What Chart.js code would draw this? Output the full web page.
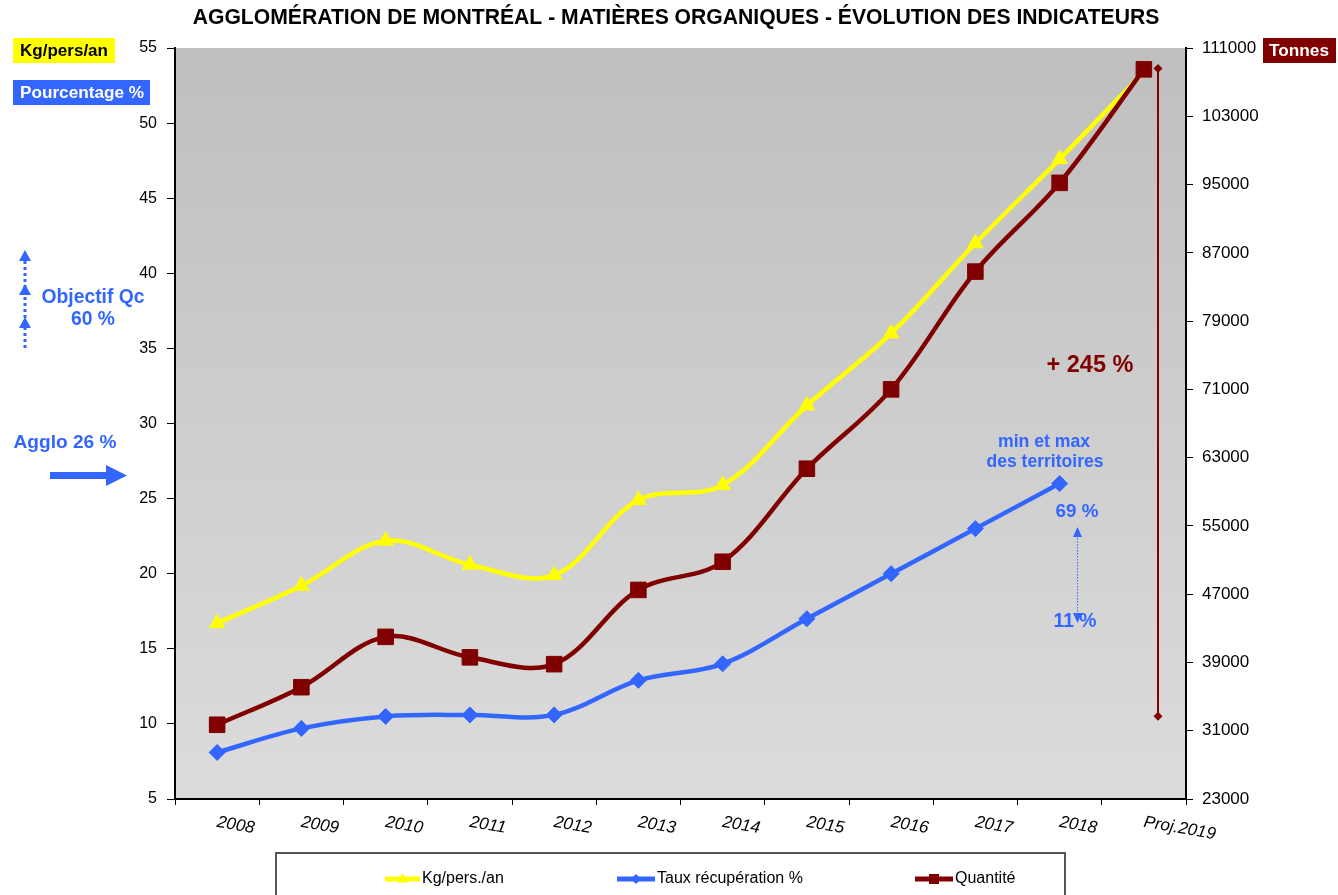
<!DOCTYPE html>
<html><head><meta charset="utf-8">
<script src="https://cdn.jsdelivr.net/npm/chart.js@4.4.0/dist/chart.umd.min.js"></script>
<style>html,body{margin:0;padding:0;background:#fff;}#wrap{width:1338px;height:895px;position:relative;}</style>
</head><body><div id="wrap"><canvas id="c" width="1338" height="895"></canvas></div>
<script>
const categories = ['2008','2009','2010','2011','2012','2013','2014','2015','2016','2017','2018','Proj.2019'];
const kgPersAn = [16.7, 19.2, 22.2, 20.6, 19.9, 24.9, 25.9, 31.2, 36.0, 42.0, 47.6, 53.4];
const tauxRecup = [8.1, 9.7, 10.5, 10.6, 10.6, 12.9, 14.0, 17.0, 20.0, 23.0, 26.0, null];
const quantite = [31700, 36100, 42000, 39600, 38800, 47500, 50800, 61700, 71000, 84800, 95200, 108500];
const seriesNames = ['Kg/pers./an', 'Taux récupération %', 'Quantité'];
const leftAxis = {min: 5, max: 55, step: 5};
const rightAxis = {min: 23000, max: 111000, step: 8000};
const rangeQuantite = [32700, 108600];

const FONT = 'Arial, "Liberation Sans", sans-serif';
const YEL = '#ffff00', BLU = '#3366ff', RED = '#800000';

function fitSize(ctx, text, weight, targetW) {
  ctx.font = weight + ' 20px ' + FONT;
  return 20 * targetW / ctx.measureText(text).width;
}
function textFit(ctx, text, cx, cy, targetW, weight, color) {
  const s = fitSize(ctx, text, weight, targetW);
  ctx.font = weight + ' ' + s.toFixed(2) + 'px ' + FONT;
  ctx.fillStyle = color; ctx.textAlign = 'center'; ctx.textBaseline = 'middle';
  ctx.fillText(text, cx, cy);
}
function tri(ctx, x1,y1,x2,y2,x3,y3,color){ctx.fillStyle=color;ctx.beginPath();ctx.moveTo(x1,y1);ctx.lineTo(x2,y2);ctx.lineTo(x3,y3);ctx.closePath();ctx.fill();}

const decor = {
  id: 'decor',
  beforeDraw(chart) {
    const {ctx, chartArea: a} = chart;
    ctx.save();
    ctx.fillStyle = '#fff'; ctx.fillRect(0, 0, chart.width, chart.height);
    const g = ctx.createLinearGradient(0, a.top, 0, a.bottom);
    g.addColorStop(0, '#bfbfbf'); g.addColorStop(1, '#dcdcdc');
    ctx.fillStyle = g; ctx.fillRect(a.left, a.top, a.right - a.left, a.bottom - a.top);
    ctx.restore();
  },
  afterDraw(chart) {
    const {ctx, chartArea: a} = chart;
    const xs = chart.scales.x, y1 = chart.scales.y1;
    ctx.save();
    // title
    textFit(ctx, 'AGGLOMÉRATION DE MONTRÉAL - MATIÈRES ORGANIQUES - ÉVOLUTION DES INDICATEURS', 676, 18, 967, 'bold', '#000');
    // unit boxes
    ctx.fillStyle = YEL; ctx.fillRect(13, 38, 102, 25);
    textFit(ctx, 'Kg/pers/an', 64, 51, 88, 'bold', '#000');
    ctx.fillStyle = BLU; ctx.fillRect(13, 80, 137, 25);
    textFit(ctx, 'Pourcentage %', 82, 93, 124, 'bold', '#fff');
    ctx.fillStyle = RED; ctx.fillRect(1263, 38, 73, 25);
    textFit(ctx, 'Tonnes', 1299, 51, 60, 'bold', '#fff');
    // Objectif Qc
    textFit(ctx, 'Objectif Qc', 93, 298, 103, 'bold', BLU);
    textFit(ctx, '60 %', 93, 320, 44, 'bold', BLU);
    ctx.strokeStyle = BLU; ctx.lineWidth = 3; ctx.setLineDash([3, 3]);
    ctx.beginPath(); ctx.moveTo(25, 348); ctx.lineTo(25, 258); ctx.stroke(); ctx.setLineDash([]);
    [250, 284, 317].forEach(t => tri(ctx, 25, t, 19, t + 11, 31, t + 11, BLU));
    // Agglo 26 %
    textFit(ctx, 'Agglo 26 %', 65, 443, 103, 'bold', BLU);
    ctx.fillStyle = BLU; ctx.fillRect(50, 472, 58, 7);
    tri(ctx, 106, 465, 127, 475.5, 106, 486, BLU);
    // +245 %
    const lx = a.right - 28;
    const yTop = y1.getPixelForValue(rangeQuantite[1]), yBot = y1.getPixelForValue(rangeQuantite[0]);
    ctx.strokeStyle = RED; ctx.lineWidth = 2;
    ctx.beginPath(); ctx.moveTo(lx, yTop); ctx.lineTo(lx, yBot); ctx.stroke();
    [yTop, yBot].forEach(yy => { ctx.fillStyle = RED; ctx.beginPath(); ctx.moveTo(lx, yy - 4.5); ctx.lineTo(lx + 4.5, yy); ctx.lineTo(lx, yy + 4.5); ctx.lineTo(lx - 4.5, yy); ctx.closePath(); ctx.fill(); });
    textFit(ctx, '+ 245 %', 1090, 366, 87, 'bold', RED);
    // min et max
    textFit(ctx, 'min et max', 1044, 442, 92, 'bold', BLU);
    textFit(ctx, 'des territoires', 1045, 462, 117, 'bold', BLU);
    textFit(ctx, '69 %', 1077, 512, 43, 'bold', BLU);
    textFit(ctx, '11 %', 1075, 622, 43, 'bold', BLU);
    ctx.strokeStyle = BLU; ctx.lineWidth = 1; ctx.setLineDash([1.5, 1.5]);
    ctx.beginPath(); ctx.moveTo(1077.5, 535); ctx.lineTo(1077.5, 615); ctx.stroke(); ctx.setLineDash([]);
    tri(ctx, 1077.5, 527, 1073, 537, 1082, 537, BLU);
    tri(ctx, 1077.5, 623, 1073, 613, 1082, 613, BLU);
    // x labels
    ctx.fillStyle = '#000'; ctx.font = 'italic 17px ' + FONT; ctx.textAlign = 'left'; ctx.textBaseline = 'middle';
    categories.forEach((c, i) => {
      const px = xs.getPixelForValue(i);
      ctx.save(); ctx.translate(px, 822); ctx.rotate(10 * Math.PI / 180); ctx.fillText(c, 0, 0); ctx.restore();
    });
    // legend
    ctx.fillStyle = '#fff'; ctx.fillRect(275, 852, 791, 50);
    ctx.strokeStyle = '#555'; ctx.lineWidth = 2; ctx.strokeRect(276, 853, 789, 50);
    const items = [[385, 420, 0], [617, 655, 1], [915, 953, 2]];
    const ly = 879;
    items.forEach(([x0, x1, di]) => {
      const ds = chart.data.datasets[di];
      ctx.strokeStyle = ds.borderColor; ctx.lineWidth = 5;
      ctx.beginPath(); ctx.moveTo(x0, ly); ctx.lineTo(x1, ly); ctx.stroke();
      const cx = (x0 + x1) / 2;
      const st = ds.pointStyle;
      if (st === 'triangle') { tri(ctx, cx, ly - 6, cx - 5.5, ly + 3.5, cx + 5.5, ly + 3.5, ds.borderColor); }
      else if (st === 'rect') { ctx.fillStyle = ds.borderColor; ctx.fillRect(cx - 5, ly - 5, 10, 10); }
      else { ctx.fillStyle = ds.borderColor; ctx.beginPath(); ctx.moveTo(cx, ly - 5); ctx.lineTo(cx + 5, ly); ctx.lineTo(cx, ly + 5); ctx.lineTo(cx - 5, ly); ctx.closePath(); ctx.fill(); }
      ctx.fillStyle = '#000'; ctx.font = '16px ' + FONT; ctx.textAlign = 'left'; ctx.textBaseline = 'middle';
      ctx.fillText(ds.label, x1 + 2, ly);
    });
    ctx.restore();
  }
};

const tickGrid = (len) => ({drawOnChartArea: false, drawTicks: true, tickLength: len, color: '#000', lineWidth: 1});

new Chart(document.getElementById('c'), {
  type: 'line',
  data: {
    labels: categories,
    datasets: [
      {label: seriesNames[0], data: kgPersAn, yAxisID: 'y', borderColor: YEL, backgroundColor: YEL, borderWidth: 4.5,
       pointStyle: 'triangle', pointRadius: 9, pointBorderWidth: 1, tension: 0.35, order: 2},
      {label: seriesNames[1], data: tauxRecup, yAxisID: 'y', borderColor: BLU, backgroundColor: BLU, borderWidth: 4.5,
       pointStyle: 'rectRot', pointRadius: 8, pointBorderWidth: 1, tension: 0.35, order: 1},
      {label: seriesNames[2], data: quantite, yAxisID: 'y1', borderColor: RED, backgroundColor: RED, borderWidth: 4.5,
       pointStyle: 'rect', pointRadius: 11, pointBorderWidth: 1, tension: 0.35, order: 0}
    ]
  },
  options: {
    responsive: false, animation: false, devicePixelRatio: 1,
    layout: {padding: {top: 48, left: 0, right: 0, bottom: 0}, autoPadding: false},
    plugins: {legend: {display: false}, title: {display: false}, tooltip: {enabled: false}},
    scales: {
      x: {type: 'category', offset: true,
          grid: Object.assign(tickGrid(6), {offset: true}),
          border: {display: true, color: '#000', width: 2},
          ticks: {display: false},
          afterFit: s => { s.height = 96; }},
      y: {position: 'left', min: leftAxis.min, max: leftAxis.max,
          ticks: {stepSize: leftAxis.step, color: '#000', font: {family: FONT, size: 16}, padding: 10},
          grid: tickGrid(8), border: {display: true, color: '#000', width: 2},
          afterFit: s => { s.width = 175; }},
      y1: {position: 'right', min: rightAxis.min, max: rightAxis.max,
          ticks: {stepSize: rightAxis.step, color: '#000', font: {family: FONT, size: 17}, padding: 9,
                  callback: v => String(v)},
          grid: tickGrid(7), border: {display: true, color: '#000', width: 2},
          afterFit: s => { s.width = 152; }}
    }
  },
  plugins: [decor]
});
</script></body></html>
